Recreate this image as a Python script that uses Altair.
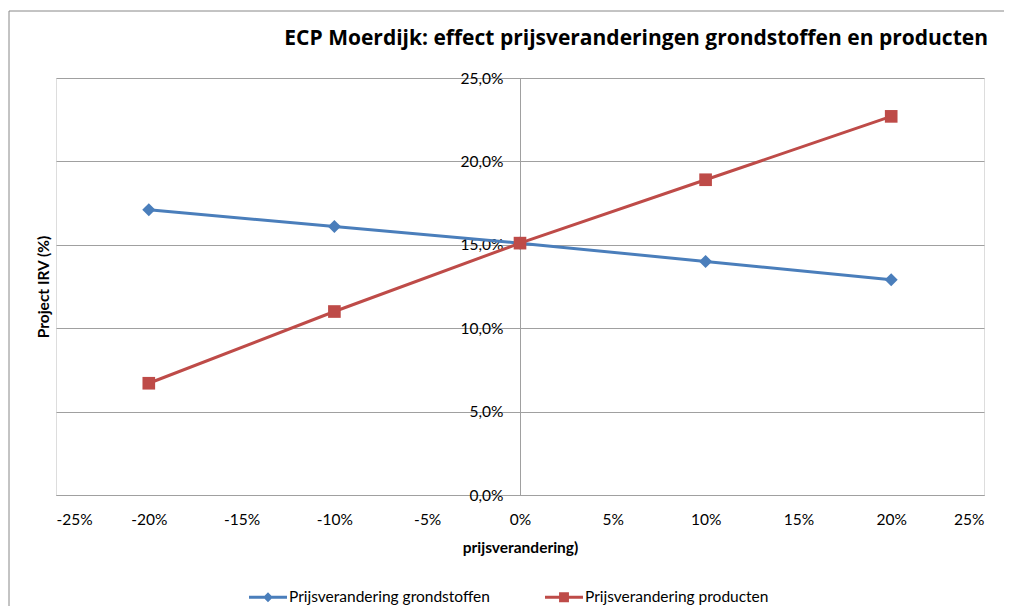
import altair as alt
import pandas as pd

# ---- data ----
x_change = [-20, -10, 0, 10, 20]
irr_grondstoffen = [17.1, 16.1, 15.1, 14.0, 12.9]
irr_producten = [6.7, 11.0, 15.1, 18.9, 22.7]
series_names = ["Prijsverandering grondstoffen", "Prijsverandering producten"]
x_ticks = [-25, -20, -15, -10, -5, 0, 5, 10, 15, 20, 25]
y_ticks = [0, 5, 10, 15, 20, 25]

title_text = "ECP Moerdijk: effect prijsveranderingen grondstoffen en producten"
x_title = "prijsverandering)"
y_title = "Project IRV (%)"

colors = ["#4a7ebb", "#be4b48"]
marker_shapes = ["diamond", "square"]
legend_shapes = [
    "M-1,-0.08H-0.18L0,-0.26L0.18,-0.08H1V0.08H0.18L0,0.26L-0.18,0.08H-1Z",
    "M-1,-0.08H-0.26V-0.26H0.26V-0.08H1V0.08H0.26V0.26H-0.26V0.08H-1Z",
]

rows = []
for name, vals in zip(series_names, [irr_grondstoffen, irr_producten]):
    for xv, yv in zip(x_change, vals):
        rows.append({"x": xv, "y": yv, "series": name})
df = pd.DataFrame(rows)
title_df = pd.DataFrame({"t": [title_text]})

W, H = 928, 417
FONT = "Lato"

xenc = alt.X(
    "x:Q",
    scale=alt.Scale(domain=[-25, 25], nice=False),
    axis=alt.Axis(
        values=x_ticks,
        labelExpr="datum.value + '%'",
        title=x_title,
        grid=False,
        ticks=False,
        tickSize=0,
        labelPadding=17,
        titlePadding=13,
        domainColor="#a0a0a0",
        labelFontSize=15.5,
        titleFontSize=15.5,
        titleFontWeight="bold",
        labelColor="#000000",
        titleColor="#000000",
        labelFont=FONT,
        titleFont=FONT,
    ),
)
yenc = alt.Y(
    "y:Q",
    scale=alt.Scale(domain=[0, 25], nice=False),
    axis=alt.Axis(
        values=y_ticks,
        labelExpr="replace(format(datum.value, '.1f'), '.', ',') + '%'",
        title=y_title,
        offset=-W / 2,
        grid=True,
        gridColor="#a0a0a0",
        domainColor="#a0a0a0",
        ticks=False,
        tickSize=0,
        labelPadding=17,
        labelFontSize=15.5,
        titleFontSize=15.5,
        titleFontWeight="bold",
        labelColor="#000000",
        titleColor="#000000",
        labelFont=FONT,
        titleFont=FONT,
        titleX=-13 - W / 2,
        titleY=H / 2,
        titleAngle=270,
        titleAlign="center",
        titleBaseline="middle",
    ),
)

color_scale = alt.Scale(domain=series_names, range=colors)

frame = alt.Chart(df).mark_rect(fill=None, stroke="#888888", strokeWidth=1).encode(
    x=alt.value(-47), x2=alt.value(1200), y=alt.value(-67), y2=alt.value(800)
).transform_filter("datum.x == -20 && datum.series == 'Prijsverandering grondstoffen'")

title_mark = alt.Chart(title_df).mark_text(
    align="right", baseline="alphabetic", fontSize=21, fontWeight="bold", font="Open Sans", color="#000000"
).encode(x=alt.value(W + 4), y=alt.value(-33), text="t:N")

lines = alt.Chart(df).mark_line(strokeWidth=3).encode(
    x=xenc,
    y=yenc,
    color=alt.Color("series:N", scale=color_scale, legend=None),
    detail="series:N",
)

points = alt.Chart(df).mark_point(filled=True, opacity=1).encode(
    x="x:Q",
    y="y:Q",
    color=alt.Color("series:N", scale=color_scale, legend=None),
    shape=alt.Shape("series:N", scale=alt.Scale(domain=series_names, range=marker_shapes), legend=None),
    size=alt.Size("series:N", scale=alt.Scale(domain=series_names, range=[170, 160]), legend=None),
)

legend_layer = alt.Chart(df).mark_point(filled=True, size=1444, opacity=1).encode(
    x="x:Q",
    y="y:Q",
    color=alt.Color(
        "series:N",
        scale=color_scale,
        legend=alt.Legend(
            title=None,
            orient="none",
            direction="horizontal",
            legendX=193,
            legendY=500,
            padding=0,
            symbolSize=1444,
            symbolStrokeWidth=0,
            symbolOpacity=1,
            labelOffset=2,
            columnPadding=55,
            labelFontSize=15.5,
            labelFont=FONT,
            labelColor="#000000",
            labelLimit=400,
        ),
    ),
    shape=alt.Shape(
        "series:N",
        scale=alt.Scale(domain=series_names, range=legend_shapes),
        legend=alt.Legend(title=None, orient="none", legendX=193, legendY=500),
    ),
).transform_filter("datum.x > 1000")

chart = (
    alt.layer(frame, title_mark, lines, points, legend_layer)
    .resolve_scale(color="independent", shape="independent", size="independent")
    .properties(
        width=W,
        height=H,
        autosize=alt.AutoSizeParams(type="none"),
        padding={"left": 48, "top": 70, "right": 20, "bottom": 111},
    )
    .configure_view(stroke=None)
    .configure(background="white")
)

chart.save("out.html", embed_options={"renderer": "svg", "actions": False})
